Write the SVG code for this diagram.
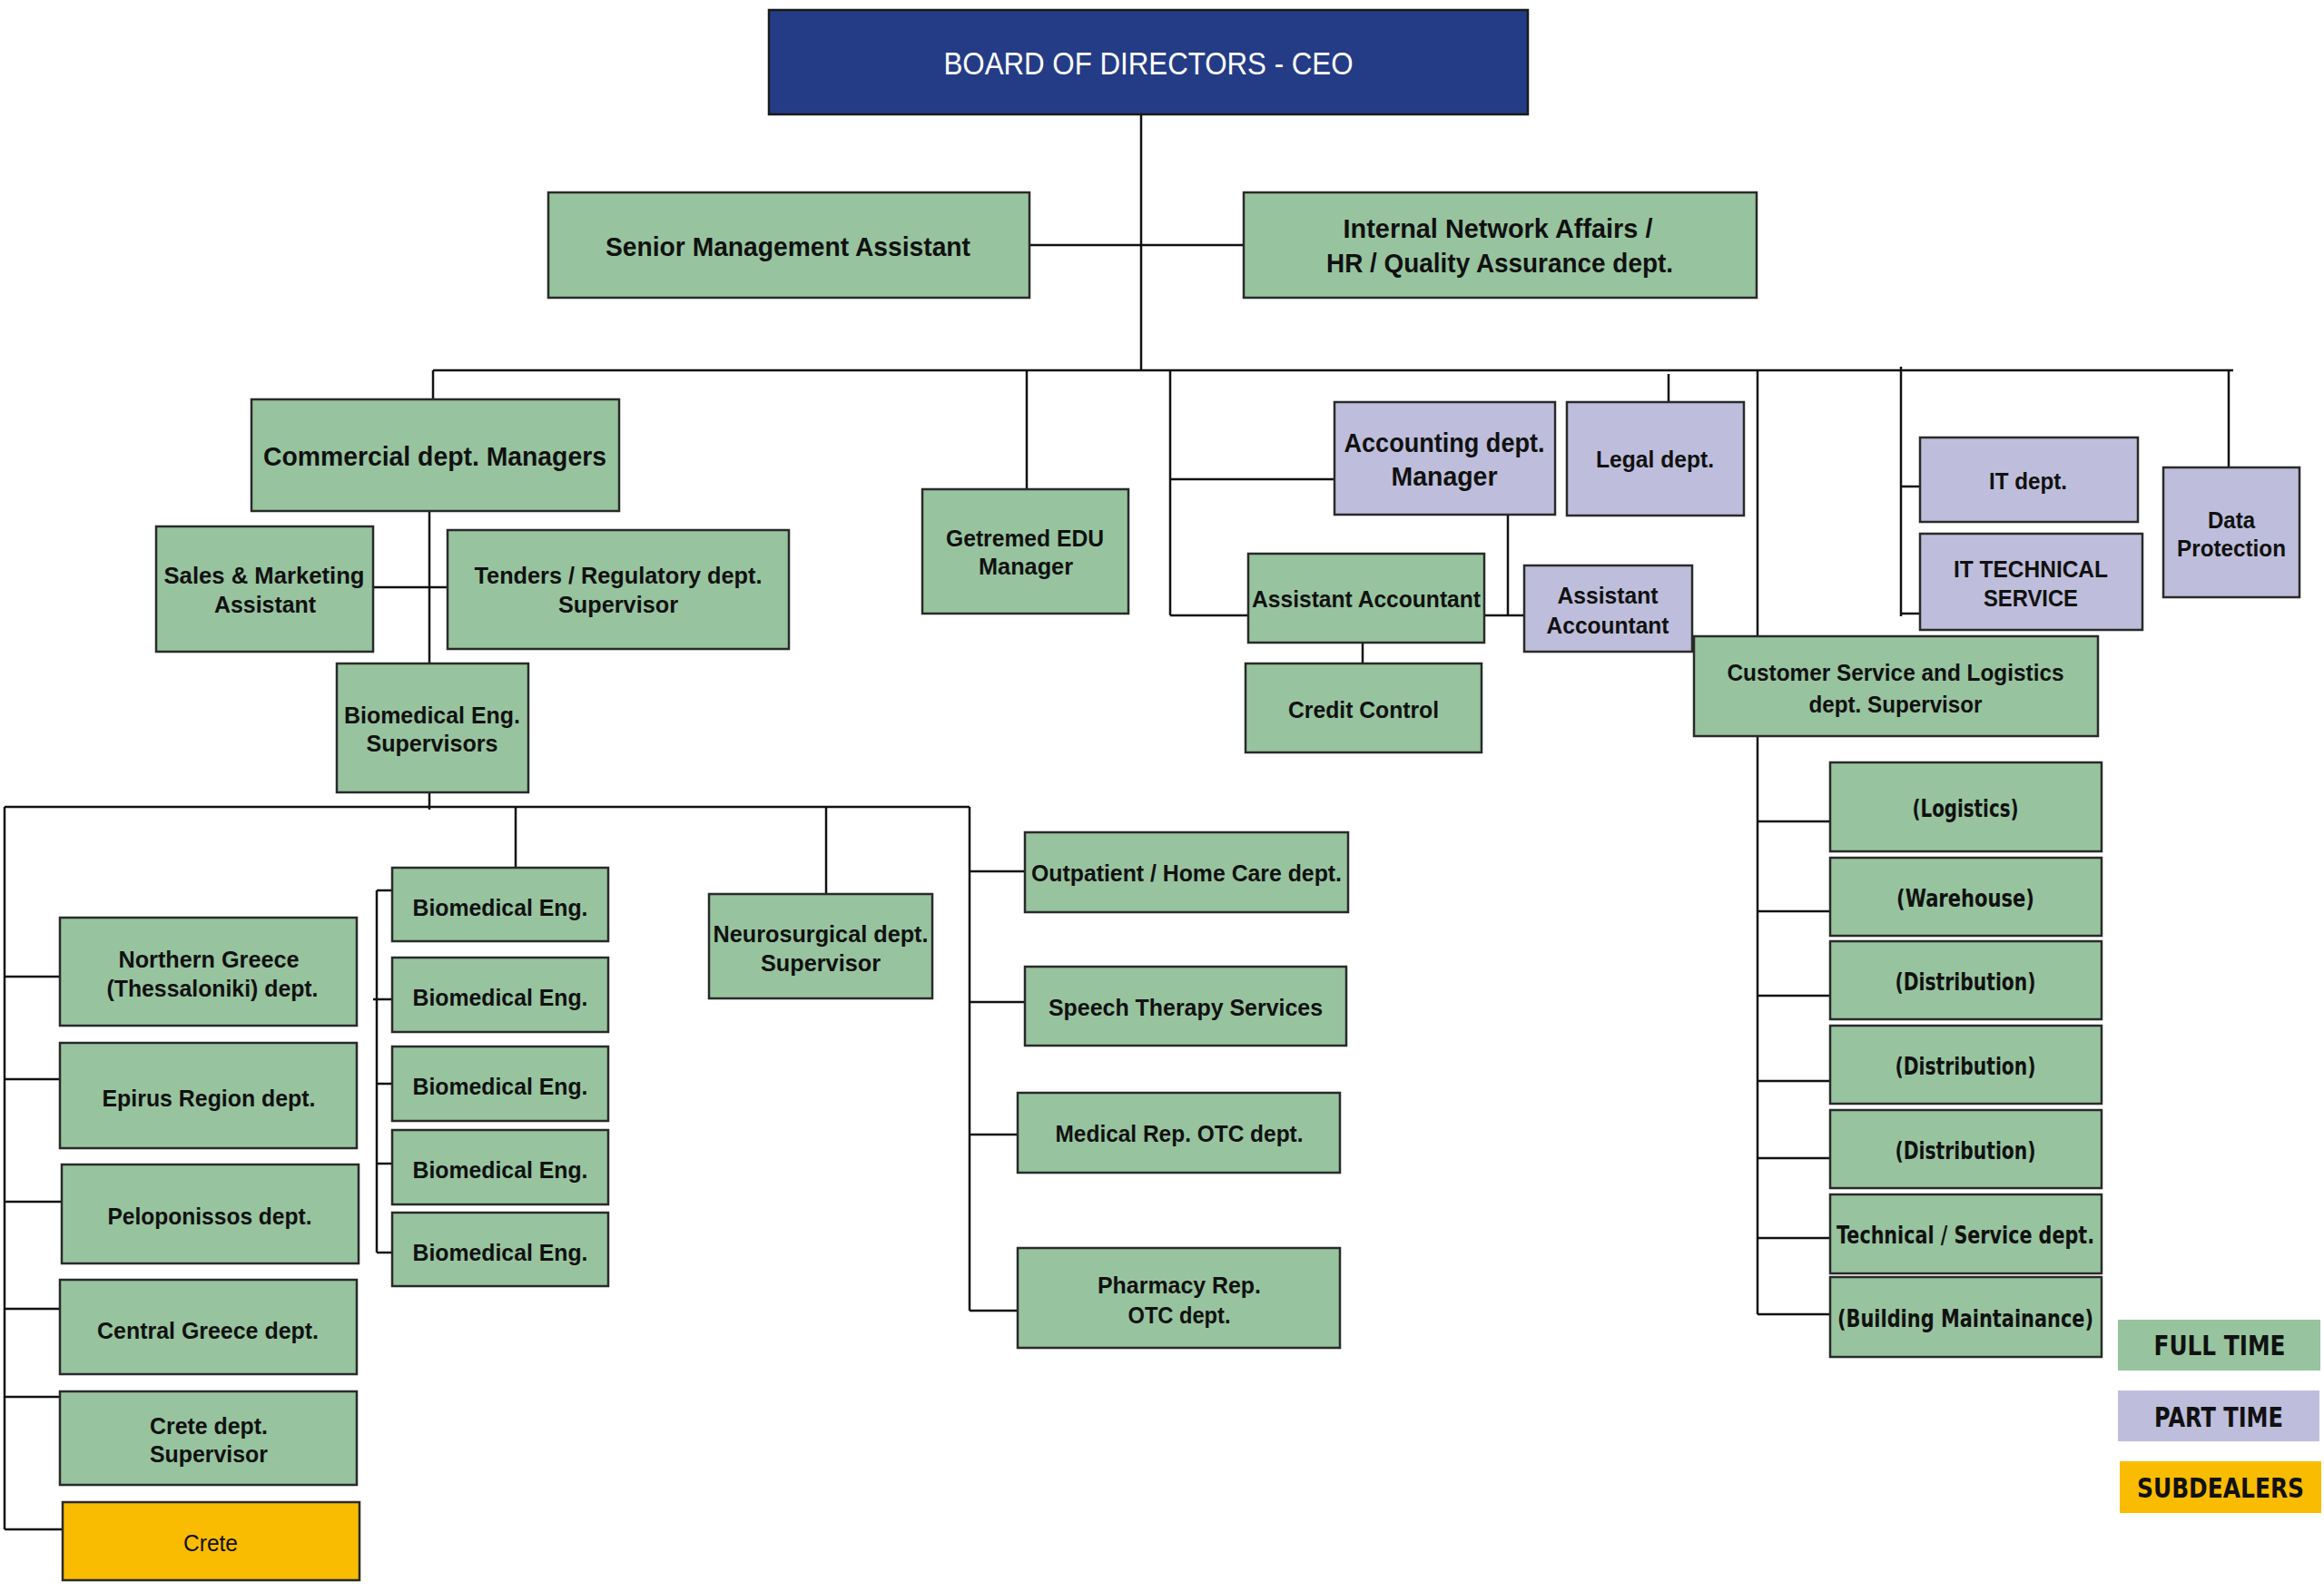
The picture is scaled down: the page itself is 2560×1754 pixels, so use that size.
<svg xmlns="http://www.w3.org/2000/svg" width="2560" height="1754" viewBox="0 0 2560 1754">
<style>
.g{fill:#97C49F;stroke:#2a2a2a;stroke-width:2.5}
.p{fill:#BEBEDC;stroke:#2a2a2a;stroke-width:2.5}
.y{fill:#F9BC00;stroke:#2a2a2a;stroke-width:2.5}
.b{fill:#243C86;stroke:#1a1a1a;stroke-width:2.5}
.c{fill:none;stroke:#111;stroke-width:2.5}
text{font-family:"Liberation Sans Narrow","Liberation Sans",Arial,sans-serif;font-weight:bold;fill:#111;text-anchor:middle}
.s28{font-size:29px}
.s25{font-size:26px}
.s24{font-size:25px}
.w{font-family:"DejaVu Sans","Liberation Sans",sans-serif;font-size:26px}
.lg{font-family:"DejaVu Sans","Liberation Sans",sans-serif;font-size:30px}
.ceo{font-size:35px;font-weight:normal;fill:#fff}
.reg{font-weight:normal}
</style>
<g id="connectors">
<path class="c" d="M1257 126V408M1134 270H1370M477 408H2460M477 408V440M473 563V731M411 647H493M473 873V892M5 889H1068M5 889V1685"/>
<path class="c" d="M5 1076H66M5 1189H66M5 1324H68M5 1442H66M5 1539H66M5 1685H69"/>
<path class="c" d="M568 889V956M415 981V1380M415 981H432M411 1101H432M415 1194H432M415 1282H432M415 1380H432"/>
<path class="c" d="M910 889V985M1068 889V1444M1068 960H1129M1068 1104H1129M1068 1250H1121M1068 1444H1142"/>
<path class="c" d="M1131 408V539M1289 408V678M1289 528H1470M1289 678H1375M1661 567V678M1635 678H1679M1501 708V731M1838 412V443"/>
<path class="c" d="M1936 408V701M1936 811V1448M1936 905H2016M1936 1004H2016M1936 1097H2016M1936 1191H2016M1936 1276H2016M1936 1364H2016M1936 1448H2016"/>
<path class="c" d="M2094 404V679M2094 536H2115M2094 676H2115M2455 408V515"/>
</g>
<g id="ceo"><rect class="b" x="847" y="11" width="836" height="115"/><text class="ceo" x="1265" y="82" textLength="451" lengthAdjust="spacingAndGlyphs">BOARD OF DIRECTORS - CEO</text></g>
<g id="senior"><rect class="g" x="604" y="212" width="530" height="116"/><text class="s28" x="868" y="282" textLength="402" lengthAdjust="spacingAndGlyphs">Senior Management Assistant</text></g>
<g id="internal"><rect class="g" x="1370" y="212" width="565" height="116"/><text class="s28" x="1650" y="262" textLength="341" lengthAdjust="spacingAndGlyphs">Internal Network Affairs /</text><text class="s28" x="1652" y="300" textLength="382" lengthAdjust="spacingAndGlyphs">HR / Quality Assurance dept.</text></g>
<g id="commercial"><rect class="g" x="277" y="440" width="405" height="123"/><text class="s28" x="479" y="513" textLength="378" lengthAdjust="spacingAndGlyphs">Commercial dept. Managers</text></g>
<g id="sales"><rect class="g" x="172" y="580" width="239" height="138"/><text class="s25" x="291" y="643" textLength="221" lengthAdjust="spacingAndGlyphs">Sales &amp; Marketing</text><text class="s25" x="292" y="675" textLength="112" lengthAdjust="spacingAndGlyphs">Assistant</text></g>
<g id="tenders"><rect class="g" x="493" y="584" width="376" height="131"/><text class="s25" x="681" y="643" textLength="317" lengthAdjust="spacingAndGlyphs">Tenders / Regulatory dept.</text><text class="s25" x="681" y="675" textLength="132" lengthAdjust="spacingAndGlyphs">Supervisor</text></g>
<g id="biosup"><rect class="g" x="371" y="731" width="211" height="142"/><text class="s25" x="476" y="797" textLength="194" lengthAdjust="spacingAndGlyphs">Biomedical Eng.</text><text class="s25" x="476" y="828" textLength="145" lengthAdjust="spacingAndGlyphs">Supervisors</text></g>
<g id="getremed"><rect class="g" x="1016" y="539" width="227" height="137"/><text class="s25" x="1129" y="602" textLength="174" lengthAdjust="spacingAndGlyphs">Getremed EDU</text><text class="s25" x="1130" y="633" textLength="104" lengthAdjust="spacingAndGlyphs">Manager</text></g>
<g id="accounting"><rect class="p" x="1470" y="443" width="243" height="124"/><text class="s28" x="1591" y="498" textLength="221" lengthAdjust="spacingAndGlyphs">Accounting dept.</text><text class="s28" x="1591" y="535" textLength="117" lengthAdjust="spacingAndGlyphs">Manager</text></g>
<g id="legal"><rect class="p" x="1726" y="443" width="195" height="125"/><text class="s25" x="1823" y="515" textLength="130" lengthAdjust="spacingAndGlyphs">Legal dept.</text></g>
<g id="asstacc1"><rect class="g" x="1375" y="610" width="260" height="98"/><text class="s24" x="1505" y="669" textLength="252" lengthAdjust="spacingAndGlyphs">Assistant Accountant</text></g>
<g id="credit"><rect class="g" x="1372" y="731" width="260" height="98"/><text class="s24" x="1502" y="791" textLength="166" lengthAdjust="spacingAndGlyphs">Credit Control</text></g>
<g id="asstacc2"><rect class="p" x="1679" y="623" width="185" height="95"/><text class="s25" x="1771" y="665" textLength="111" lengthAdjust="spacingAndGlyphs">Assistant</text><text class="s25" x="1771" y="698" textLength="135" lengthAdjust="spacingAndGlyphs">Accountant</text></g>
<g id="it"><rect class="p" x="2115" y="482" width="240" height="93"/><text class="s25" x="2234" y="539" textLength="86" lengthAdjust="spacingAndGlyphs">IT dept.</text></g>
<g id="ittech"><rect class="p" x="2115" y="588" width="245" height="106"/><text class="s25" x="2237" y="636" textLength="170" lengthAdjust="spacingAndGlyphs">IT TECHNICAL</text><text class="s25" x="2237" y="668" textLength="104" lengthAdjust="spacingAndGlyphs">SERVICE</text></g>
<g id="data"><rect class="p" x="2383" y="515" width="150" height="143"/><text class="s25" x="2458" y="582" textLength="52" lengthAdjust="spacingAndGlyphs">Data</text><text class="s25" x="2458" y="613" textLength="120" lengthAdjust="spacingAndGlyphs">Protection</text></g>
<g id="customer"><rect class="g" x="1866" y="701" width="445" height="110"/><text class="s25" x="2088" y="750" textLength="371" lengthAdjust="spacingAndGlyphs">Customer Service and Logistics</text><text class="s25" x="2088" y="785" textLength="191" lengthAdjust="spacingAndGlyphs">dept. Supervisor</text></g>
<g id="logistics"><rect class="g" x="2016" y="840" width="299" height="98"/><text class="w" x="2165" y="900" textLength="117" lengthAdjust="spacingAndGlyphs">(Logistics)</text></g>
<g id="warehouse"><rect class="g" x="2016" y="945" width="299" height="86"/><text class="w" x="2165" y="999" textLength="152" lengthAdjust="spacingAndGlyphs">(Warehouse)</text></g>
<g id="dist1"><rect class="g" x="2016" y="1037" width="299" height="86"/><text class="w" x="2165" y="1091" textLength="155" lengthAdjust="spacingAndGlyphs">(Distribution)</text></g>
<g id="dist2"><rect class="g" x="2016" y="1130" width="299" height="86"/><text class="w" x="2165" y="1184" textLength="155" lengthAdjust="spacingAndGlyphs">(Distribution)</text></g>
<g id="dist3"><rect class="g" x="2016" y="1223" width="299" height="86"/><text class="w" x="2165" y="1277" textLength="155" lengthAdjust="spacingAndGlyphs">(Distribution)</text></g>
<g id="technical"><rect class="g" x="2016" y="1316" width="299" height="87"/><text class="w" x="2165" y="1370" textLength="284" lengthAdjust="spacingAndGlyphs">Technical / Service dept.</text></g>
<g id="building"><rect class="g" x="2016" y="1407" width="299" height="88"/><text class="w" x="2165" y="1462" textLength="282" lengthAdjust="spacingAndGlyphs">(Building Maintainance)</text></g>
<g id="northern"><rect class="g" x="66" y="1011" width="327" height="119"/><text class="s25" x="230" y="1066" textLength="199" lengthAdjust="spacingAndGlyphs">Northern Greece</text><text class="s25" x="234" y="1098" textLength="233" lengthAdjust="spacingAndGlyphs">(Thessaloniki) dept.</text></g>
<g id="epirus"><rect class="g" x="66" y="1149" width="327" height="116"/><text class="s25" x="230" y="1219" textLength="235" lengthAdjust="spacingAndGlyphs">Epirus Region dept.</text></g>
<g id="pelop"><rect class="g" x="68" y="1283" width="327" height="109"/><text class="s25" x="231" y="1349" textLength="225" lengthAdjust="spacingAndGlyphs">Peloponissos dept.</text></g>
<g id="central"><rect class="g" x="66" y="1410" width="327" height="104"/><text class="s25" x="229" y="1475" textLength="244" lengthAdjust="spacingAndGlyphs">Central Greece dept.</text></g>
<g id="cretesup"><rect class="g" x="66" y="1533" width="327" height="103"/><text class="s25" x="230" y="1580" textLength="130" lengthAdjust="spacingAndGlyphs">Crete dept.</text><text class="s25" x="230" y="1611" textLength="130" lengthAdjust="spacingAndGlyphs">Supervisor</text></g>
<g id="crete"><rect class="y" x="69" y="1655" width="327" height="86"/><text class="s25 reg" x="232" y="1709" textLength="60" lengthAdjust="spacingAndGlyphs">Crete</text></g>
<g id="be1"><rect class="g" x="432" y="956" width="238" height="81"/><text class="s25" x="551" y="1009" textLength="193" lengthAdjust="spacingAndGlyphs">Biomedical Eng.</text></g>
<g id="be2"><rect class="g" x="432" y="1055" width="238" height="82"/><text class="s25" x="551" y="1108" textLength="193" lengthAdjust="spacingAndGlyphs">Biomedical Eng.</text></g>
<g id="be3"><rect class="g" x="432" y="1153" width="238" height="82"/><text class="s25" x="551" y="1206" textLength="193" lengthAdjust="spacingAndGlyphs">Biomedical Eng.</text></g>
<g id="be4"><rect class="g" x="432" y="1245" width="238" height="82"/><text class="s25" x="551" y="1298" textLength="193" lengthAdjust="spacingAndGlyphs">Biomedical Eng.</text></g>
<g id="be5"><rect class="g" x="432" y="1336" width="238" height="81"/><text class="s25" x="551" y="1389" textLength="193" lengthAdjust="spacingAndGlyphs">Biomedical Eng.</text></g>
<g id="neuro"><rect class="g" x="781" y="985" width="246" height="115"/><text class="s25" x="904" y="1038" textLength="237" lengthAdjust="spacingAndGlyphs">Neurosurgical dept.</text><text class="s25" x="904" y="1070" textLength="132" lengthAdjust="spacingAndGlyphs">Supervisor</text></g>
<g id="outpatient"><rect class="g" x="1129" y="917" width="356" height="88"/><text class="s25" x="1307" y="971" textLength="342" lengthAdjust="spacingAndGlyphs">Outpatient / Home Care dept.</text></g>
<g id="speech"><rect class="g" x="1129" y="1065" width="354" height="87"/><text class="s25" x="1306" y="1119" textLength="302" lengthAdjust="spacingAndGlyphs">Speech Therapy Services</text></g>
<g id="medrep"><rect class="g" x="1121" y="1204" width="355" height="88"/><text class="s25" x="1299" y="1258" textLength="273" lengthAdjust="spacingAndGlyphs">Medical Rep. OTC dept.</text></g>
<g id="pharmacy"><rect class="g" x="1121" y="1375" width="355" height="110"/><text class="s25" x="1299" y="1425" textLength="180" lengthAdjust="spacingAndGlyphs">Pharmacy Rep.</text><text class="s25" x="1299" y="1458" textLength="113" lengthAdjust="spacingAndGlyphs">OTC dept.</text></g>
<g id="legend">
<rect x="2333" y="1454" width="223" height="56" fill="#97C49F"/><text class="lg" x="2445" y="1493" textLength="145" lengthAdjust="spacingAndGlyphs">FULL TIME</text>
<rect x="2333" y="1532" width="222" height="56" fill="#BEBEDC"/><text class="lg" x="2444" y="1572" textLength="142" lengthAdjust="spacingAndGlyphs">PART TIME</text>
<rect x="2335" y="1610" width="222" height="57" fill="#F9BC00"/><text class="lg" x="2446" y="1650" textLength="184" lengthAdjust="spacingAndGlyphs">SUBDEALERS</text>
</g>
</svg>
